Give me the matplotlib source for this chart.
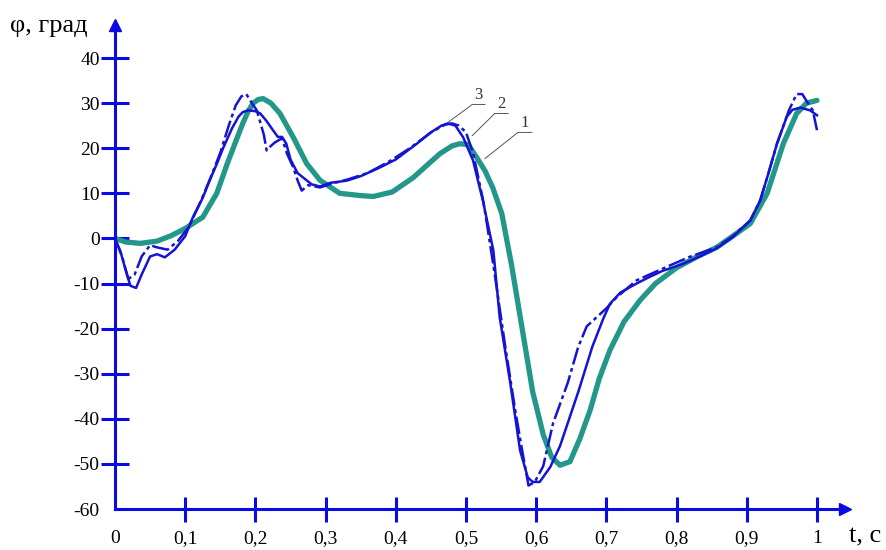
import matplotlib.pyplot as plt

plt.rcParams['font.family'] = ['Liberation Serif', 'DejaVu Serif']
plt.rcParams['axes.unicode_minus'] = False

# curve 1 (thick teal)
t1 = [0, 0.015, 0.036, 0.06, 0.08, 0.1, 0.125, 0.145, 0.16, 0.172,
      0.182, 0.19, 0.197, 0.204, 0.211, 0.222, 0.235, 0.254, 0.273, 0.292,
      0.32, 0.349, 0.368, 0.395, 0.425, 0.445, 0.463, 0.48, 0.491, 0.503,
      0.515, 0.527, 0.538, 0.551, 0.565, 0.58, 0.595, 0.61, 0.622, 0.634,
      0.648, 0.662, 0.677, 0.69, 0.705, 0.725, 0.748, 0.77, 0.8, 0.83,
      0.857, 0.88, 0.905, 0.929, 0.952, 0.971, 0.985, 1.0]
phi1 = [0, -0.8, -1.1, -0.6, 0.6, 2.2, 4.7, 10, 16.6, 21.5,
        25.5, 28.3, 30, 30.8, 31, 30, 27.7, 22.4, 16.6, 12.9,
        10, 9.5, 9.3, 10.3, 13.5, 16.3, 18.8, 20.5, 21, 20.8,
        18, 15, 11.3, 5.5, -6, -20, -34, -43.5, -48.5, -50.3,
        -49.5, -44.5, -38, -31, -24.8, -18.5, -13.7, -10, -6.5, -4,
        -2, 0.5, 3.3, 10, 21, 27.7, 30, 30.6]

# curve 2 (thin solid blue)
t2 = [0, 0.008, 0.016, 0.022, 0.03, 0.038, 0.05, 0.06, 0.071, 0.085,
      0.1, 0.111, 0.125, 0.135, 0.145, 0.154, 0.167, 0.176, 0.182, 0.19,
      0.2, 0.207, 0.216, 0.225, 0.232, 0.238, 0.244, 0.25, 0.26, 0.268,
      0.28, 0.292, 0.306, 0.33, 0.35, 0.377, 0.4, 0.43, 0.45, 0.465,
      0.474, 0.485, 0.496, 0.51, 0.524, 0.539, 0.548, 0.563, 0.577, 0.588,
      0.595, 0.605, 0.62, 0.634, 0.66, 0.68, 0.695, 0.705, 0.72, 0.743,
      0.762, 0.78, 0.81, 0.833, 0.857, 0.88, 0.905, 0.919, 0.93, 0.943,
      0.957, 0.965, 0.976, 0.99, 1.0]
phi2 = [0, -3, -7.5, -10.5, -11, -8, -4, -3.5, -4.2, -2.5,
        0.5, 4.7, 9, 12.9, 16.5, 20, 24.5, 27, 28, 28.4,
        28.2, 27.7, 26, 24, 22.5, 22.5, 21, 17.5, 14.5, 13.5,
        12, 11.5, 12.3, 12.8, 13.8, 15.7, 17.5, 21, 23.5, 25,
        25.5, 25, 22.4, 17.3, 8.4, -2.7, -17.5, -32, -47, -53,
        -54, -54, -50.7, -46, -34, -24, -18, -14.5, -12, -10,
        -8.5, -7.2, -5.6, -4, -2.2, 0.3, 4, 8.4, 14, 21,
        27, 28.5, 29, 28.4, 27.3]

# curve 3 (dash-dot blue)
t3 = [0, 0.01, 0.019, 0.028, 0.038, 0.05, 0.06, 0.075, 0.09, 0.105,
      0.12, 0.135, 0.15, 0.162, 0.172, 0.18, 0.187, 0.195, 0.202, 0.207,
      0.212, 0.216, 0.222, 0.228, 0.238, 0.245, 0.254, 0.26, 0.266, 0.275,
      0.292, 0.31, 0.33, 0.36, 0.39, 0.42, 0.45, 0.47, 0.48, 0.49,
      0.5, 0.51, 0.525, 0.54, 0.555, 0.57, 0.58, 0.589, 0.598, 0.61,
      0.624, 0.645, 0.66, 0.672, 0.686, 0.7, 0.715, 0.743, 0.786, 0.82,
      0.857, 0.88, 0.905, 0.919, 0.93, 0.943, 0.96, 0.971, 0.979, 0.987,
      0.994, 1.0]
phi3 = [0, -4, -9, -8, -4, -1.5, -2, -2.5, -0.5, 2.5,
        7.5, 13, 19, 25, 29.5, 31.5, 32, 30, 28.4, 25.7,
        23, 19.5, 20.5, 21.3, 22.2, 18.8, 15.7, 12.9, 10.6, 11.8,
        11.3, 12.2, 13, 14.5, 17, 20, 23.5, 25.2, 25.5, 25,
        23.5, 19, 8, -7, -23, -38, -47, -54.8, -54, -50.5,
        -41, -32, -24, -19.5, -17.5, -15.5, -13, -9.3, -6.3, -4,
        -2, 0.5, 4, 8.4, 14, 21, 28.4, 32, 32, 30,
        28.4, 24]

x_ticks = [0, 0.1, 0.2, 0.3, 0.4, 0.5, 0.6, 0.7, 0.8, 0.9, 1.0]
x_labels = ['0', '0,1', '0,2', '0,3', '0,4', '0,5', '0,6', '0,7', '0,8', '0,9', '1']
y_ticks = [-60, -50, -40, -30, -20, -10, 0, 10, 20, 30, 40]

axis_blue = '#0a0ae6'
line_blue = '#1414d2'
teal = '#22978a'

fig = plt.figure(figsize=(8.87, 5.5), dpi=100)
ax = fig.add_axes([115 / 887, 41 / 550, 735 / 887, 487 / 550])
ax.set_xlim(0, 735 / 702)
ax.set_ylim(-60, -60 + 487 / 4.51)

ax.plot(t1, phi1, color=teal, lw=3.8, solid_capstyle='round', zorder=2)
ax.plot(t2, phi2, color=line_blue, lw=1.8, zorder=3)
ax.plot(t3, phi3, color=line_blue, lw=1.8, ls=(0, (7, 1.5, 1.5, 1.5)), zorder=3)

# axes as blue arrows
for side in ['top', 'right']:
    ax.spines[side].set_visible(False)
for side in ['left', 'bottom']:
    ax.spines[side].set_color(axis_blue)
    ax.spines[side].set_linewidth(2.2)
ax.spines['left'].set_bounds(-60, 46)
ax.spines['bottom'].set_bounds(0, 1.035)
ax.plot([0], [47.3], marker='^', ms=9, color=axis_blue, clip_on=False)
ax.plot([1.04], [-60], marker='>', ms=9, color=axis_blue, clip_on=False)

ax.set_xticks(x_ticks)
ax.set_xticklabels(x_labels)
ax.set_yticks(y_ticks)
ax.tick_params(axis='y', direction='inout', length=20, width=2.2, color=axis_blue,
               labelsize=14, pad=1)
ax.tick_params(axis='x', direction='inout', length=18, width=2.2, color=axis_blue,
               labelsize=14, pad=6)
ax.yaxis.get_major_ticks()[0].tick1line.set_visible(False)
ax.xaxis.get_major_ticks()[0].tick1line.set_visible(False)

# curve number callouts
callouts = [('3', (0.474, 25.7), (0.509, 29.7), 0.527),
            ('2', (0.509, 22.8), (0.541, 27.7), 0.560),
            ('1', (0.527, 17.7), (0.574, 23.5), 0.594)]
for label, start, knee, end in callouts:
    ax.plot([start[0], knee[0], end], [start[1], knee[1], knee[1]],
            color='#555555', lw=0.7, zorder=4)
    ax.text((knee[0] + end) / 2, knee[1] + 0.3, label, ha='center', va='bottom',
            fontsize=12, color='#333333')

fig.text(10 / 887, 1 - 26 / 550, 'φ, град', fontsize=19, va='center', ha='left')
fig.text(849 / 887, 1 - 536 / 550, 't, c', fontsize=19, va='center', ha='left')

fig.savefig('out.png', dpi=100)
plt.close(fig)
